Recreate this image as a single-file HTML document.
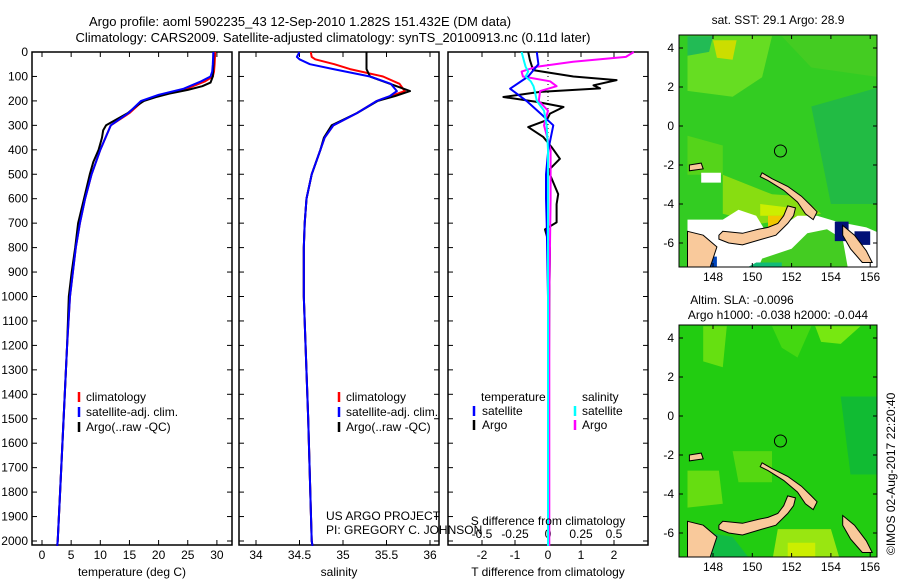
<!DOCTYPE html>
<html><head><meta charset="utf-8">
<style>
html,body{margin:0;padding:0;background:#fff}
svg{display:block;font-family:"Liberation Sans",sans-serif;font-size:12px}
</style></head>
<body>
<svg id="s" width="900" height="580" viewBox="0 0 900 580" xmlns="http://www.w3.org/2000/svg">
<rect width="900" height="580" fill="#fff"/>
<text x="300" y="26" text-anchor="middle" font-size="13">Argo profile: aoml 5902235_43 12-Sep-2010 1.282S 151.432E (DM data)</text>
<text x="333" y="42" text-anchor="middle" font-size="13">Climatology: CARS2009. Satellite-adjusted climatology: synTS_20100913.nc (0.11d later)</text>
<g id="plots"></g>
<g id="maps"></g>
<text transform="translate(895,555) rotate(-90)" font-size="12">©IMOS 02-Aug-2017 22:20:40</text>
</svg>
<script>
// ---------- data ----------
const tDepth = [0,50,80,100,120,150,175,200,250,300,400,500,600,700,800,900,1000,1200,1500,1800,2000,2020];
const tClim  = [29.7,29.6,29.5,29.3,28.0,24.8,20.5,17.3,15.0,11.8,10.0,8.5,7.4,6.5,5.8,5.3,4.8,4.3,3.7,3.1,2.7,2.6];
const tSat   = [29.4,29.3,29.2,28.9,27.3,24.3,20.0,17.0,14.8,11.8,10.0,8.5,7.4,6.5,5.8,5.3,4.8,4.3,3.7,3.1,2.7,2.6];
const aDepth = [0,50,100,125,140,155,170,185,200,215,250,300,320,350,400,450,500,600,700,800,900,1000,1200,1500,1800,2000,2020];
const tArgo  = [29.4,29.4,29.3,28.9,27.5,25.0,21.8,19.5,17.5,16.5,14.7,11.0,10.5,10.3,9.7,8.8,8.2,7.2,6.2,5.7,5.1,4.6,4.3,3.7,3.1,2.7,2.6];
const sDepth = [0,20,30,50,70,100,130,160,180,200,250,300,350,400,500,600,700,800,1000,1500,2000,2020];
const sClim  = [34.63,34.64,34.68,34.9,35.08,35.46,35.65,35.71,35.55,35.39,35.16,34.89,34.79,34.74,34.64,34.58,34.56,34.55,34.55,34.6,34.64,34.65];
const sSat   = [34.5,34.47,34.5,34.62,34.89,35.31,35.55,35.62,35.54,35.39,35.16,34.89,34.79,34.74,34.64,34.58,34.56,34.55,34.55,34.6,34.64,34.65];
const sArgo  = [35.27,35.27,35.27,35.27,35.27,35.31,35.54,35.77,35.6,35.4,35.16,34.87,34.78,34.74,34.64,34.58,34.56,34.55,34.55,34.6,34.64,34.65];
const dDepth = [0,33,74,100,115,136,149,163,184,204,225,252,279,307,348,389,437,485,581,622,697,725,800,1000,1500,2000,2020];
const dTArgo = [-0.6,-0.55,-0.45,0.77,2.08,1.38,1.58,-0.24,-1.35,-0.34,0.47,0.06,-0.04,-0.6,-0.14,0.11,0.36,0.01,0.31,0.26,0.26,-0.09,0.06,0.04,0.02,0.02,0.02];
const dsDepth= [0,50,100,150,200,250,300,400,500,600,700,1000,1500,2000,2020];
const dTSat  = [-0.34,-0.29,-0.6,-1.15,-0.65,-0.24,0.16,0.01,-0.06,-0.06,-0.04,0.0,0.0,0.0,0.0];
const mDepth = [0,20,40,60,80,100,120,140,160,200,240,300,400,600,1000,2000,2020];
const dSArgo = [0.65,0.59,0.19,-0.085,-0.2,-0.19,0.016,0.065,-0.06,-0.07,0.0,-0.03,0.02,0.02,0.01,0.01,0.01];
const dSSat  = [-0.2,-0.19,-0.18,-0.17,-0.15,-0.17,-0.13,-0.11,-0.1,-0.085,-0.03,-0.01,0,0,0,0,0];
const depthTicks = [0,100,200,300,400,500,600,700,800,900,1000,1100,1200,1300,1400,1500,1600,1700,1800,1900,2000];
const tTicks = [0,5,10,15,20,25,30];
const sTicks = [34,34.5,35,35.5,36];
const sTickLabels = ["34","34.5","35","35.5","36"];
const dTTicks = [-2,-1,0,1,2];
const dSTicks = [-0.5,-0.25,0,0.25,0.5];
const lonTicks = [148,150,152,154,156];
const latTicks = [4,2,0,-2,-4,-6];
const argoLon = 151.432, argoLat = -1.282;

// ---------- helpers ----------
const NS="http://www.w3.org/2000/svg";
function mk(tag,attrs,parent){const e=document.createElementNS(NS,tag);for(const k in attrs)e.setAttribute(k,attrs[k]);parent.appendChild(e);return e;}
const plots=document.getElementById('plots');
const Y0=52, YK=0.2445, YB=545;
const yD=d=>Y0+d*YK;

function panel(x0,x1,name){
  const r=mk('rect',{x:x0,y:Y0,width:x1-x0,height:YB-Y0,fill:'none',stroke:'#000','stroke-width':1.5},plots);
  
  
}
function line(xs,ds,fx,color,w,name){
  const pts=xs.map((v,i)=>fx(v).toFixed(1)+','+yD(ds[i]).toFixed(1)).join(' ');
  const p=mk('polyline',{points:pts,fill:'none',stroke:color,'stroke-width':w,'stroke-linejoin':'round'},plots);
  
  
}
function xticks(ticks,labels,fx,ty,name){
  ticks.forEach((t,i)=>{
    const x=fx(t);
    mk('line',{x1:x,y1:YB,x2:x,y2:YB-5,stroke:'#000'},plots);
    mk('line',{x1:x,y1:Y0,x2:x,y2:Y0+5,stroke:'#000'},plots);
    if(labels[i]!==""){const tx=mk('text',{x:x,y:ty,'text-anchor':'middle'},plots);tx.textContent=labels[i];
    
    }
  });
}
function ytickmarks(x0,x1){
  depthTicks.forEach(d=>{const y=yD(d);mk('line',{x1:x0,y1:y,x2:x0+5,y2:y,stroke:'#000'},plots);mk('line',{x1:x1,y1:y,x2:x1-5,y2:y,stroke:'#000'},plots);});
}
function txt(x,y,s,name,anchor){const t=mk('text',{x:x,y:y,'text-anchor':anchor||'start'},plots);t.textContent=s;
  
  return t;}
function mark(x,y,color){mk('line',{x1:x,y1:y-9,x2:x,y2:y+1,stroke:color,'stroke-width':2.5},plots);}

depthTicks.forEach(d=>{txt(28,yD(d)+4,String(d),'depth-tick-label','end');});

// panel 1 temperature
const fT=v=>42+v*5.83;
panel(32,232,'temperature-panel');
ytickmarks(32,232);
xticks(tTicks,tTicks.map(String),fT,559,'temperature-tick-label');
line(tClim,tDepth,fT,'#f00',2,'temp-climatology-line');
line(tArgo,aDepth,fT,'#000',2,'temp-argo-line');
line(tSat,tDepth,fT,'#00f',2,'temp-satellite-line');
txt(132,576,'temperature (deg C)','temperature-axis-title','middle');
mark(79,401,'#f00');txt(86,401,'climatology','legend-climatology');
mark(79,416,'#00f');txt(86,416,'satellite-adj. clim.','legend-satellite');
mark(79,431,'#000');txt(86,431,'Argo(..raw -QC)','legend-argo');

// panel 2 salinity
const fS=v=>256+(v-34)*87;
panel(239,439,'salinity-panel');
ytickmarks(239,439);
xticks(sTicks,sTickLabels,fS,559,'salinity-tick-label');
line(sClim,sDepth,fS,'#f00',2,'sal-climatology-line');
line(sArgo,sDepth,fS,'#000',2,'sal-argo-line');
line(sSat,sDepth,fS,'#00f',2,'sal-satellite-line');
txt(339,576,'salinity','salinity-axis-title','middle');
mark(339,401,'#f00');txt(346,401,'climatology','legend-climatology');
mark(339,416,'#00f');txt(346,416,'satellite-adj. clim.','legend-satellite');
mark(339,431,'#000');txt(346,431,'Argo(..raw -QC)','legend-argo');
txt(326,520,'US ARGO PROJECT','project-label');
txt(326,534,'PI: GREGORY C. JOHNSON','pi-label');

// panel 3 differences
const fDT=v=>548+v*33;
const fDS=v=>548+v*132;
panel(448,648,'difference-panel');
ytickmarks(448,648);
xticks(dTTicks,dTTicks.map(String),fDT,559,'t-diff-tick-label');
dSTicks.forEach(t=>{txt(fDS(t),538,String(t),'s-diff-tick-label','middle');});
mk('line',{x1:548,y1:Y0,x2:548,y2:YB,stroke:'#000','stroke-dasharray':'1,3'},plots);
line(dTArgo,dDepth,fDT,'#000',2,'t-diff-argo-line');
line(dSArgo,mDepth,fDS,'#f0f',2,'s-diff-argo-line');
line(dTSat,dsDepth,fDT,'#00f',2,'t-diff-satellite-line');
line(dSSat,mDepth,fDS,'#0ff',2,'s-diff-satellite-line');
txt(548,525,'S difference from climatology','s-diff-axis-title','middle');
txt(548,576,'T difference from climatology','t-diff-axis-title','middle');
txt(481,401,'temperature','legend-temperature-header');
mark(474,415,'#00f');txt(482,415,'satellite','legend-t-satellite');
mark(474,429,'#000');txt(482,429,'Argo','legend-t-argo');
txt(582,401,'salinity','legend-salinity-header');
mark(575,415,'#0ff');txt(582,415,'satellite','legend-s-satellite');
mark(575,429,'#f0f');txt(582,429,'Argo','legend-s-argo');

// ---------- maps ----------
const maps=document.getElementById('maps');
const MX0=679, MX1=877;
const fLon=l=>713+(l-148)*19.65;
const land=[
 [[148.3,-5.6],[148.5,-5.4],[149.5,-5.5],[150.3,-5.3],[150.8,-5.2],[151.3,-5.0],[151.6,-4.6],[151.8,-4.1],[152.2,-4.2],[152.1,-4.6],[151.8,-5.0],[151.2,-5.6],[150.5,-5.8],[149.5,-6.1],[148.8,-6.0],[148.3,-5.8]],
 [[150.5,-2.4],[151,-2.7],[151.8,-3.1],[152.5,-3.6],[153.0,-4.1],[153.3,-4.4],[153.1,-4.8],[152.7,-4.5],[152.3,-3.9],[151.6,-3.3],[150.8,-2.8],[150.4,-2.6]],
 [[146.7,-5.4],[147.5,-5.6],[148.2,-6.2],[148,-6.8],[147.8,-7.4],[146.7,-7.4]],
 [[146.8,-2.0],[147.4,-1.9],[147.5,-2.2],[146.8,-2.3]],
 [[154.6,-5.1],[155.2,-5.6],[155.8,-6.4],[156.1,-7.0],[155.6,-7.0],[155.0,-6.3],[154.6,-5.6]]
];
function drawMap(top,bot,fLat,base,patches,name,title1){
  const g=mk('g',{},maps);
  
  
  const cid='c'+name;
  const cp=mk('clipPath',{id:cid},g);mk('rect',{x:MX0,y:top,width:MX1-MX0,height:bot-top},cp);
  const inner=mk('g',{'clip-path':'url(#'+cid+')'},g);
  mk('rect',{x:MX0,y:top,width:MX1-MX0,height:bot-top,fill:base},inner);
  patches.forEach(p=>{mk('polygon',{points:p[0].map(q=>fLon(q[0]).toFixed(1)+','+fLat(q[1]).toFixed(1)).join(' '),fill:p[1]},inner);});
  land.forEach(poly=>{const pl=mk('polygon',{points:poly.map(q=>fLon(q[0]).toFixed(1)+','+fLat(q[1]).toFixed(1)).join(' '),fill:'#f9c99b',stroke:'#000','stroke-width':1},inner);
    
    });
  const c=mk('circle',{cx:fLon(argoLon),cy:fLat(argoLat),r:6,fill:'none',stroke:'#000'},inner);
  
  
  mk('rect',{x:MX0,y:top,width:MX1-MX0,height:bot-top,fill:'none',stroke:'#000'},g);
  lonTicks.forEach(l=>{const x=fLon(l);mk('line',{x1:x,y1:bot,x2:x,y2:bot-4,stroke:'#000'},g);mk('line',{x1:x,y1:top,x2:x,y2:top+4,stroke:'#000'},g);
    const t=mk('text',{x:x,y:bot+14,'text-anchor':'middle'},g);t.textContent=String(l);
    
    });
  latTicks.forEach(l=>{const y=fLat(l);mk('line',{x1:MX0,y1:y,x2:MX0+4,y2:y,stroke:'#000'},g);mk('line',{x1:MX1,y1:y,x2:MX1-4,y2:y,stroke:'#000'},g);
    const t=mk('text',{x:674,y:y+4,'text-anchor':'end'},g);t.textContent=String(l);
    
    });
  title1.forEach(tt=>{const t=mk('text',{x:tt[0],y:tt[1],'text-anchor':'middle'},g);t.textContent=tt[2];
    
    });
}
const fLatTop=l=>126-l*19.5;
const fLatBot=l=>416-l*19.5;
drawMap(35,267,fLatTop,'#33cc22',[
 [[[146.7,4.6],[151,4.6],[150.5,2.5],[149,1.5],[146.7,1.8]],'#66dd22'],
 [[[148,4.4],[149.2,4.4],[149,3.4],[148.2,3.5]],'#ccdd00'],
 [[[146.7,4.6],[148,4.6],[147.8,3.8],[146.7,3.6]],'#22bb55'],
 [[[151.5,4.6],[156.5,4.6],[156.5,2.5],[153,3]],'#44cc22'],
 [[[153,1],[156.5,2],[156.5,-4],[154,-4]],'#22bb44'],
 [[[146.7,-0.5],[148.5,-1],[148.5,-2.5],[146.7,-2.5]],'#55d41a'],
 [[[148.5,-2.5],[151,-3.5],[152.5,-3.6],[153.5,-4.5],[150.5,-5],[148.5,-4.5]],'#88dd11'],
 [[[150.4,-4.0],[152,-4.2],[151.5,-4.6],[150.4,-4.6]],'#ccee00'],
 [[[150.8,-4.6],[151.6,-4.6],[151.6,-5.3],[150.8,-5.3]],'#f0c800'],
 [[[146.7,-4.8],[148.5,-4.8],[149.3,-4.3],[150.2,-4.6],[150.8,-5.6],[152.3,-4.6],[153.3,-4.6],[154.3,-4.9],[155.8,-5.2],[156.5,-5.5],[156.5,-7.5],[146.7,-7.5]],'#ffffff'],
 [[[147.4,-2.4],[148.4,-2.4],[148.4,-2.9],[147.4,-2.9]],'#ffffff'],
 [[[150.2,-7.5],[150.5,-6.8],[152,-6.3],[152.8,-5.5],[153.8,-5.3],[154.6,-5.8],[154.9,-7.5]],'#44cc22'],
 [[[149.3,-7.5],[150.2,-7.0],[151.5,-7.0],[151.5,-7.5]],'#11bb77'],
 [[[154.2,-4.9],[154.9,-4.9],[154.9,-5.9],[154.2,-5.9]],'#001177'],
 [[[155.2,-5.4],[156.0,-5.4],[156.0,-6.1],[155.2,-6.1]],'#001177'],
 [[[147.5,-6.7],[148.2,-6.7],[148.2,-7.3],[147.5,-7.3]],'#0044bb']
],'sst-map',[[778,24,'sat. SST: 29.1  Argo: 28.9']]);
drawMap(325,557,fLatBot,'#22cc11',[
 [[[147.5,4.6],[148.7,4.6],[148.5,2.5],[147.5,2.8]],'#66e011'],
 [[[151,4.6],[153,4.6],[152.3,3],[151.5,3.5]],'#44d811'],
 [[[153.2,4.6],[155.5,4.6],[154.5,3.7],[153.5,3.8]],'#77e811'],
 [[[146.7,-2.8],[148.3,-2.8],[148.5,-4.5],[146.7,-4.7]],'#66dd11'],
 [[[149,-1.8],[151,-1.8],[151,-3.4],[149.3,-3.4]],'#55d811'],
 [[[154.5,1],[156.5,1],[156.5,-3],[155,-3]],'#11bb33'],
 [[[146.7,-5.8],[149,-6.2],[150,-7.5],[146.7,-7.5]],'#11bb44'],
 [[[151.3,-5.8],[154,-5.8],[154.5,-7.5],[151,-7.5]],'#99e611'],
 [[[151.8,-6.5],[153.2,-6.5],[153.2,-7.5],[151.8,-7.5]],'#ccee00']
],'sla-map',[[742,304,'Altim. SLA: -0.0096'],[778,319,'Argo h1000: -0.038 h2000: -0.044']]);
</script>
</body></html>
